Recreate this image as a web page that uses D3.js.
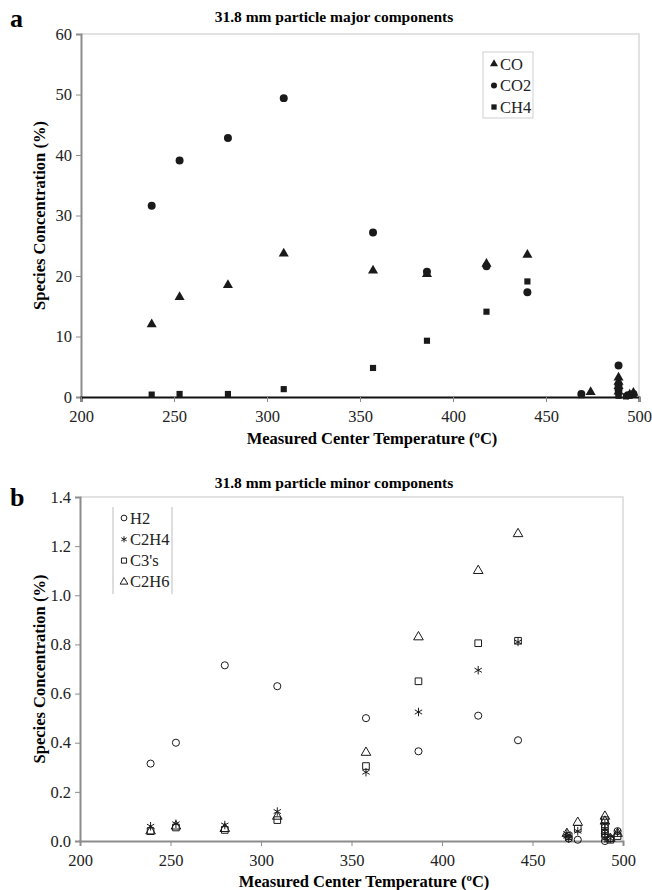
<!DOCTYPE html>
<html>
<head>
<meta charset="utf-8">
<script src="https://cdn.jsdelivr.net/npm/d3@7"></script>
<style>
  body { margin: 0; background: #fff; }
  svg, svg text { font-family: "Liberation Serif", "Times New Roman", serif; }
</style>
</head>
<body>
<script>
// panel a: major components (temperature, value pairs per species)
const coTemp  = [238, 253, 279, 309, 357, 386, 418, 440, 474, 489, 489, 489, 489, 495, 497];
const coVal   = [12.0, 16.5, 18.5, 23.7, 20.9, 20.3, 22.0, 23.5, 0.8, 3.2, 2.5, 1.8, 0.9, 0.4, 0.7];
const co2Temp = [238, 253, 279, 309, 357, 386, 418, 440, 469, 489, 489, 489, 494, 497];
const co2Val  = [31.6, 39.1, 42.8, 49.4, 27.2, 20.7, 21.6, 17.3, 0.5, 5.2, 2.0, 1.2, 0.3, 0.5];
const ch4Temp = [238, 253, 279, 309, 357, 386, 418, 440, 469, 489, 489, 493, 495];
const ch4Val  = [0.4, 0.5, 0.5, 1.3, 4.8, 9.3, 14.1, 19.1, 0.3, 0.4, 0.2, 0.1, 0.2];

// panel b: minor components
const h2Temp   = [239, 253, 280, 309, 358, 387, 420, 442, 470, 475, 490, 490, 490, 493, 497];
const h2Val    = [0.315, 0.40, 0.715, 0.63, 0.50, 0.365, 0.51, 0.41, 0.01, 0.005, 0.03, 0.02, 0.0, 0.01, 0.04];
const c2h4Temp = [239, 253, 280, 309, 358, 387, 420, 442, 469, 469, 470, 475, 490, 490, 490, 490, 493, 497];
const c2h4Val  = [0.06, 0.07, 0.065, 0.12, 0.28, 0.525, 0.695, 0.81, 0.03, 0.02, 0.01, 0.04, 0.07, 0.05, 0.03, 0.01, 0.01, 0.035];
const c3Temp   = [239, 253, 280, 309, 358, 387, 420, 442, 470, 475, 490, 490, 490, 493, 497];
const c3Val    = [0.04, 0.055, 0.045, 0.085, 0.305, 0.65, 0.805, 0.815, 0.02, 0.05, 0.085, 0.06, 0.04, 0.005, 0.02];
const c2h6Temp = [239, 253, 280, 309, 358, 387, 420, 442, 469, 475, 490, 490, 493, 497];
const c2h6Val  = [0.04, 0.06, 0.05, 0.10, 0.36, 0.83, 1.10, 1.25, 0.03, 0.075, 0.10, 0.08, 0.01, 0.03];

const xTicks = [200, 250, 300, 350, 400, 450, 500];
const yTicksA = [0, 10, 20, 30, 40, 50, 60];
const yTicksB = [0, 0.2, 0.4, 0.6, 0.8, 1.0, 1.2, 1.4];

const svg = d3.select("body").append("svg")
    .attr("width", 652)
    .attr("height", 890);

function zip(t, v) { return t.map((d, i) => ({ t: d, v: v[i] })); }

// draws one panel frame; returns scales
function panel(box, yDomain, yTicks, yFmt, opt) {
    const x = d3.scaleLinear().domain([200, 500]).range([box.left, box.right]);
    const y = d3.scaleLinear().domain(yDomain).range([box.bottom, box.top]);
    const g = svg.append("g");

    // light frame top/right
    g.append("path")
        .attr("d", `M${box.left},${box.top}H${box.right}V${box.bottom}`)
        .attr("fill", "none").attr("stroke", "#d9d9d9").attr("stroke-width", 1.5);

    const yAxis = g.append("g")
        .attr("transform", `translate(${box.left},0)`)
        .call(d3.axisLeft(y).tickValues(yTicks).tickFormat(yFmt).tickSize(5).tickPadding(4));
    yAxis.select(".domain").attr("stroke", "#8c8c8c").attr("stroke-width", 2);
    yAxis.selectAll(".tick line").attr("stroke", "#8c8c8c");

    const xAxis = g.append("g")
        .attr("transform", `translate(0,${box.bottom})`)
        .call(d3.axisBottom(x).tickValues(xTicks).tickSize(5).tickPadding(8));
    xAxis.select(".domain").attr("stroke", opt.bottomColor).attr("stroke-width", 2);
    xAxis.selectAll(".tick line").attr("stroke", "#8c8c8c");

    [xAxis, yAxis].forEach(ax => {
        ax.attr("font-family", null).attr("font-size", null);
        ax.selectAll("text")
            .style("font-family", "'Liberation Serif', serif")
            .style("font-size", "16.5px")
            .attr("fill", "#222");
    });

    g.append("text")
        .attr("x", 334).attr("y", opt.titleY)
        .attr("text-anchor", "middle")
        .attr("font-weight", "bold").attr("font-size", 15.5)
        .text(opt.title);
    g.append("text")
        .attr("x", 10).attr("y", opt.letterY)
        .attr("font-weight", "bold").attr("font-size", 26)
        .text(opt.letter);
    g.append("text")
        .attr("x", opt.xTitleX).attr("y", opt.xTitleY)
        .attr("text-anchor", "middle")
        .attr("font-weight", "bold").attr("font-size", 16.5)
        .text("Measured Center Temperature (ºC)");
    g.append("text")
        .attr("transform", `translate(45,${(box.top + box.bottom) / 2}) rotate(-90)`)
        .attr("text-anchor", "middle")
        .attr("font-weight", "bold").attr("font-size", 16.5)
        .text("Species Concentration (%)");
    return { x, y };
}

// ---- panel a ----
const boxA = { left: 81, right: 639, top: 34, bottom: 397 };
const A = panel(boxA, [0, 60], yTicksA, d3.format("d"), {
    title: "31.8 mm particle major components", letter: "a",
    titleY: 22, letterY: 27, xTitleY: 444, xTitleX: 372, bottomColor: "#111"
});

const tri = d3.symbol().type(d3.symbolTriangle).size(44);
const dot = d3.symbol().type(d3.symbolCircle).size(50);
const sq = d3.symbol().type(d3.symbolSquare).size(38);

const seriesA = [
    { name: "CO", sym: tri, data: zip(coTemp, coVal) },
    { name: "CO2", sym: dot, data: zip(co2Temp, co2Val) },
    { name: "CH4", sym: sq, data: zip(ch4Temp, ch4Val) }
];
seriesA.forEach(s => {
    svg.append("g").selectAll("path")
        .data(s.data)
        .enter().append("path")
        .attr("d", s.sym)
        .attr("transform", d => `translate(${A.x(d.t)},${A.y(d.v)})`)
        .attr("fill", "#1a1a1a");
});

// legend a
const legA = svg.append("g");
legA.append("rect")
    .attr("x", 483).attr("y", 52).attr("width", 50).attr("height", 66)
    .attr("fill", "#fff").attr("stroke", "#cfcfcf");
seriesA.forEach((s, i) => {
    const yy = 64 + i * 21.5;
    legA.append("path").attr("d", d3.symbol().type(s.sym.type()).size(28)())
        .attr("transform", `translate(494,${yy})`).attr("fill", "#1a1a1a");
    legA.append("text").attr("x", 500).attr("y", yy + 5.5)
        .attr("font-size", 16.5).attr("fill", "#222").text(s.name);
});

// ---- panel b ----
const boxB = { left: 80, right: 623, top: 497, bottom: 841 };
const B = panel(boxB, [0, 1.4], yTicksB, d3.format(".1f"), {
    title: "31.8 mm particle minor components", letter: "b",
    titleY: 488, letterY: 506, xTitleY: 887, xTitleX: 364, bottomColor: "#8c8c8c"
});

const oTri = d3.symbol().type(d3.symbolTriangle).size(40);
const oDot = d3.symbol().type(d3.symbolCircle).size(40);
const oSq = d3.symbol().type(d3.symbolSquare).size(44);
const star = d3.symbol().type(d3.symbolAsterisk).size(50);

const seriesB = [
    { name: "H2", sym: oDot, data: zip(h2Temp, h2Val) },
    { name: "C2H4", sym: star, data: zip(c2h4Temp, c2h4Val) },
    { name: "C3's", sym: oSq, data: zip(c3Temp, c3Val) },
    { name: "C2H6", sym: oTri, data: zip(c2h6Temp, c2h6Val) }
];
seriesB.forEach(s => {
    svg.append("g").selectAll("path")
        .data(s.data)
        .enter().append("path")
        .attr("d", s.sym)
        .attr("transform", d => `translate(${B.x(d.t)},${B.y(d.v)})`)
        .attr("fill", "none")
        .attr("stroke", "#1a1a1a")
        .attr("stroke-width", 1);
});

// legend b (only side rules visible in the original)
const legB = svg.append("g");
legB.append("line").attr("x1", 113).attr("x2", 113).attr("y1", 507).attr("y2", 594)
    .attr("stroke", "#bdbdbd");
legB.append("line").attr("x1", 172).attr("x2", 172).attr("y1", 507).attr("y2", 594)
    .attr("stroke", "#bdbdbd");
seriesB.forEach((s, i) => {
    const yy = 518 + i * 21.3;
    legB.append("path").attr("d", d3.symbol().type(s.sym.type()).size(26)())
        .attr("transform", `translate(124,${yy})`)
        .attr("fill", "none").attr("stroke", "#1a1a1a");
    legB.append("text").attr("x", 130).attr("y", yy + 5.5)
        .attr("font-size", 16.5).attr("fill", "#222").text(s.name);
});
</script>
</body>
</html>
